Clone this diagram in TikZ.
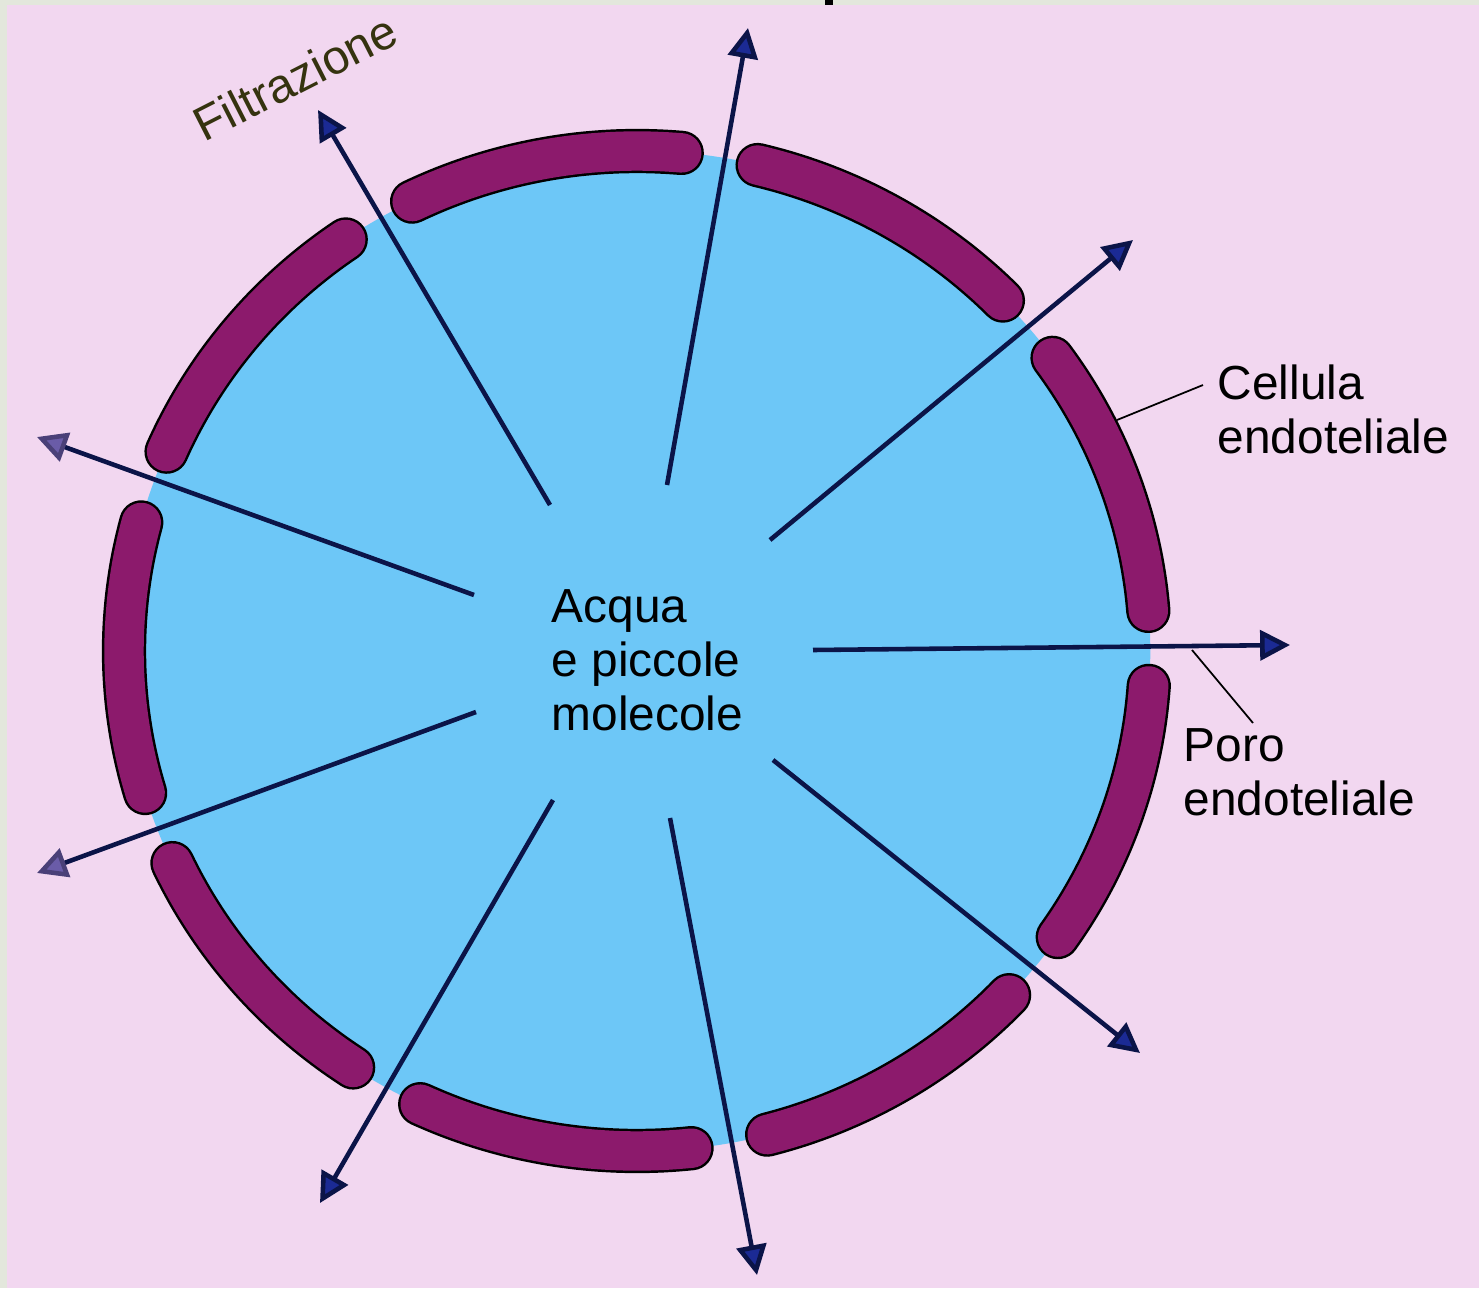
\documentclass[tikz,border=0pt]{standalone}
\usepackage{fontspec}
\setmainfont{Liberation Sans}
\usetikzlibrary{arrows.meta}
\definecolor{bgpink}{HTML}{F2D7F0}
\definecolor{plasma}{HTML}{6DC7F7}
\definecolor{cellpurple}{HTML}{8C1A6C}
\definecolor{navy}{HTML}{0B1448}
\definecolor{headblue}{HTML}{1B2A94}
\definecolor{headmuted}{HTML}{6A5CA8}
\definecolor{headmutededge}{HTML}{4A4078}
\definecolor{labelolive}{HTML}{35330F}
\definecolor{edgegrey}{HTML}{E3E7DC}

\begin{document}
\begin{tikzpicture}[x=0.01cm,y=-0.01cm,
  flow/.style={draw=navy, line width=1.3pt,
    -{Triangle[length=8.5pt,width=8.5pt,fill=headblue,color=navy]}},
  flowmuted/.style={draw=navy, line width=1.3pt,
    -{Triangle[length=8.5pt,width=8.5pt,fill=headmuted,color=headmutededge]}},
  txt/.style={font=\fontsize{13.6}{15.3}\selectfont, align=left, inner sep=0pt},
  leader/.style={draw=black, line width=0.5pt},
  celledge/.style={draw=black, line width=12.6pt, line cap=round},
  cellbody/.style={draw=cellpurple, line width=11.2pt, line cap=round},
]
% page and background
\fill[edgegrey] (0,0) rectangle (1479,1288);
\fill[bgpink] (7,5) rectangle (1479,1288);
\fill[black] (825,0) rectangle (833,5);

% capillary lumen
\fill[plasma] (637,651) ellipse [x radius=5.13cm, y radius=5cm];

% endothelial cells along the wall
\foreach \a/\b in {85/116, 124.6/156.5, 165.1/196.5, 205.1/236.4,
                   245/276.1, 284.7/316.5, 325.1/356, 4.6/35.9, 44.5/76.4}{
  \draw[celledge] plot[domain=\a:\b, samples=40] ({637+513*cos(\x)},{651-500*sin(\x)});
  \draw[cellbody] plot[domain=\a:\b, samples=40] ({637+513*cos(\x)},{651-500*sin(\x)});
}

% flow through the pores
\coordinate (s1) at (550,505);  \coordinate (e1) at (318,110);
\coordinate (s2) at (667,485);  \coordinate (e2) at (748,28);
\coordinate (s3) at (770,540);  \coordinate (e3) at (1133,240);
\coordinate (s4) at (813,650);  \coordinate (e4) at (1290,645);
\coordinate (s5) at (773,760);  \coordinate (e5) at (1140,1053);
\coordinate (s6) at (670,818);  \coordinate (e6) at (757,1275);
\coordinate (s7) at (553,800);  \coordinate (e7) at (320,1203);
\coordinate (s8) at (476,712);  \coordinate (e8) at (37,873);
\coordinate (s9) at (474,595);  \coordinate (e9) at (37,437);
\foreach \i in {1,...,7}{ \draw[flow] (s\i) -- (e\i); }
\draw[flowmuted] (s8) -- (e8);
\draw[flowmuted] (s9) -- (e9);

% labels
\node[txt, anchor=base west, rotate=27, text=labelolive] (filt) at (204,143) {Filtrazione};
\node[txt, anchor=north west] (lumen) at (551,589) {Acqua\\e piccole\\molecole};
\node[txt, anchor=north west] (cell) at (1217,364) {Cellula\\endoteliale};
\node[txt, anchor=north west] (pore) at (1183,728) {Poro\\endoteliale};

% leader lines
\coordinate (cellpt) at (1117,420);
\coordinate (cellend) at (1203,385);
\coordinate (porept) at (1192,650);
\coordinate (poreend) at (1253,723);
\draw[leader] (cellpt) -- (cellend);
\draw[leader] (porept) -- (poreend);
\end{tikzpicture}
\end{document}
